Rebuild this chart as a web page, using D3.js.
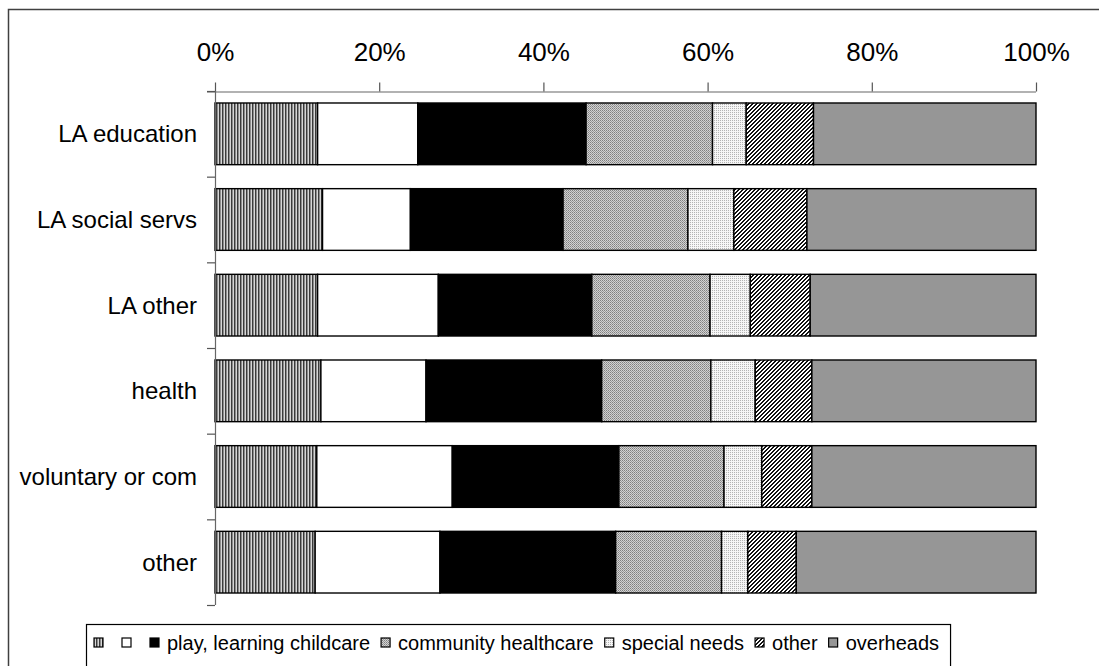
<!DOCTYPE html>
<html>
<head>
<meta charset="utf-8">
<script src="https://cdn.jsdelivr.net/npm/d3@7"></script>
<style>
  html, body { margin: 0; padding: 0; background: #fff; }
  svg { display: block; font-family: Arial, "Liberation Sans", sans-serif; }
</style>
</head>
<body>
<svg id="chart" width="1099" height="666"></svg>
<script>
// Funding providers, top to bottom
const categories = ["LA education", "LA social servs", "LA other", "health", "voluntary or com", "other"];

// Legend labels, one per stacked series (first two carry no label)
const seriesNames = ["", "", "play, learning childcare", "community healthcare", "special needs", "other", "overheads"];
const seriesKeys = ["s1", "s2", "play", "community", "special", "otherSpend", "overheads"];

// Share of spend per provider, percent
const s1Values        = [12.5, 13.1, 12.5, 12.9, 12.4, 12.2];
const s2Values        = [12.2, 10.7, 14.7, 12.8, 16.5, 15.2];
const playValues      = [20.5, 18.6, 18.7, 21.4, 20.3, 21.4];
const communityValues = [15.4, 15.2, 14.4, 13.3, 12.8, 12.9];
const specialValues   = [4.1, 5.6, 4.9, 5.4, 4.6, 3.2];
const otherValues     = [8.2, 8.9, 7.3, 6.9, 6.1, 5.9];
const overheadValues  = [27.1, 27.9, 27.5, 27.3, 27.3, 29.2];

const tickValues = [0, 20, 40, 60, 80, 100];

const table = categories.map((c, i) => ({
  category: c,
  s1: s1Values[i],
  s2: s2Values[i],
  play: playValues[i],
  community: communityValues[i],
  special: specialValues[i],
  otherSpend: otherValues[i],
  overheads: overheadValues[i]
}));

const svg = d3.select("#chart");
const defs = svg.append("defs");

// Pixel fill patterns in the style of monochrome office charts
function pattern(id, w, h, bg, pixels) {
  const p = defs.append("pattern").attr("id", id)
    .attr("patternUnits", "userSpaceOnUse").attr("width", w).attr("height", h);
  p.append("rect").attr("width", w).attr("height", h).attr("fill", bg);
  pixels.forEach(([px, py, pw, ph, c]) =>
    p.append("rect").attr("x", px).attr("y", py).attr("width", pw).attr("height", ph)
      .attr("fill", c).attr("shape-rendering", "crispEdges"));
}
// fine vertical stripes
pattern("pVert", 3, 3, "#d6d6d6", [[0, 0, 1, 3, "#3a3a3a"], [1, 0, 1, 3, "#8c8c8c"]]);
// grey checker
pattern("pGrid", 2, 2, "#d2d2d2", [[0, 0, 1, 1, "#808080"], [1, 1, 1, 1, "#9a9a9a"]]);
// sparse light dots
pattern("pDots", 2, 2, "#f6f6f6", [[0, 0, 1, 1, "#b4b4b4"]]);
// dense diagonal hatch
pattern("pDiag", 4, 4, "#ffffff", [
  [0, 3, 2, 1, "#111"], [1, 2, 2, 1, "#111"], [2, 1, 2, 1, "#111"], [3, 0, 1, 1, "#111"], [0, 0, 1, 1, "#111"]
]);

const fills = {
  s1: "url(#pVert)",
  s2: "#ffffff",
  play: "#000000",
  community: "url(#pGrid)",
  special: "url(#pDots)",
  otherSpend: "url(#pDiag)",
  overheads: "#969696"
};

// Outer chart frame
svg.append("rect")
  .attr("x", 8.5).attr("y", 9.5).attr("width", 1200).attr("height", 800)
  .attr("fill", "none").attr("stroke", "#404040").attr("stroke-width", 1.5);

const x = d3.scaleLinear().domain([0, 100]).range([215, 1036]);
const y = d3.scaleBand().domain(categories).range([91, 605])
  .paddingInner(0.28).paddingOuter(0.14);

const stack = d3.stack().keys(seriesKeys);
const layers = stack(table);

// Stacked bars
svg.append("g").selectAll("g")
  .data(layers)
  .join("g")
  .attr("fill", d => fills[d.key])
  .selectAll("rect")
  .data(d => d)
  .join("rect")
  .attr("x", d => x(d[0]))
  .attr("y", d => y(d.data.category))
  .attr("width", d => x(d[1]) - x(d[0]))
  .attr("height", y.bandwidth())
  .attr("stroke", "#000")
  .attr("stroke-width", 1.4);

// Value axis along the top
const xAxis = d3.axisTop(x)
  .tickValues(tickValues)
  .tickFormat(d => d + "%")
  .tickSize(9)
  .tickPadding(22);
const gx = svg.append("g").attr("transform", "translate(0,91.5)").call(xAxis);
gx.select(".domain").attr("d", `M207,0.5H${x(100)}`).attr("stroke", "#666").attr("stroke-width", 1.2);
gx.selectAll(".tick line").attr("stroke", "#555").attr("stroke-width", 1.2);
gx.selectAll(".tick text").attr("font-size", 26).attr("fill", "#000")
  .attr("font-family", "Arial, 'Liberation Sans', sans-serif");

// Category axis on the left, tick marks between bands
const step = y.step();
const bandEdges = d3.range(categories.length + 1).map(i => y.range()[0] + i * step);
const gy = svg.append("g");
gy.append("line")
  .attr("x1", x(0) + 0.5).attr("x2", x(0) + 0.5)
  .attr("y1", y.range()[0]).attr("y2", y.range()[1])
  .attr("stroke", "#666").attr("stroke-width", 1.2);
gy.selectAll("line.edge")
  .data(bandEdges)
  .join("line")
  .attr("class", "edge")
  .attr("x1", x(0) - 8).attr("x2", x(0))
  .attr("y1", d => d + 0.5).attr("y2", d => d + 0.5)
  .attr("stroke", "#555").attr("stroke-width", 1.2);
gy.selectAll("text")
  .data(categories)
  .join("text")
  .attr("x", 197)
  .attr("y", d => y(d) + y.bandwidth() / 2)
  .attr("dy", "0.35em")
  .attr("text-anchor", "end")
  .attr("font-size", 24)
  .attr("fill", "#000")
  .text(d => d);

// Legend
const legend = svg.append("g");
const legendBox = legend.append("rect")
  .attr("x", 86.5).attr("y", 624.5).attr("height", 80)
  .attr("fill", "#fff").attr("stroke", "#000").attr("stroke-width", 1.2);
let cursor = 94;
const legendMid = 643;
seriesKeys.forEach((k, i) => {
  legend.append("rect")
    .attr("x", cursor).attr("y", legendMid - 5)
    .attr("width", 9).attr("height", 9)
    .attr("fill", fills[k]).attr("stroke", "#000").attr("stroke-width", 1.2);
  cursor += 9 + 8;
  const t = legend.append("text")
    .attr("x", cursor).attr("y", legendMid)
    .attr("dy", "0.35em")
    .attr("font-size", 20)
    .attr("fill", "#000")
    .text(seriesNames[i]);
  cursor += t.node().getComputedTextLength() + 11;
});
legendBox.attr("width", cursor - 86);
</script>
</body>
</html>
